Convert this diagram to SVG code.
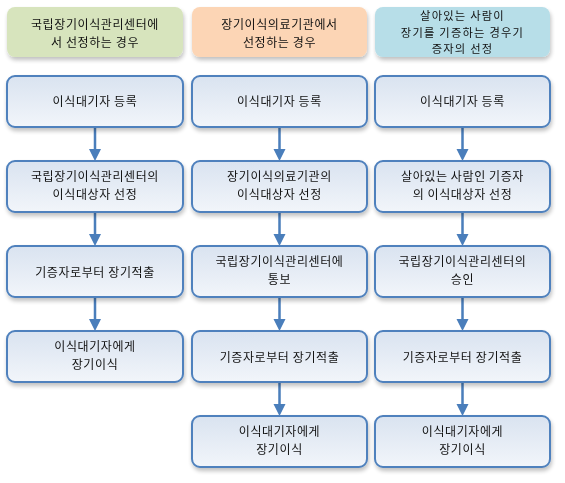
<svg xmlns="http://www.w3.org/2000/svg" width="565" height="483" viewBox="0 0 565 483">
<style>
text{font-family:"Noto Sans CJK KR","Noto Sans",sans-serif;font-size:12px;letter-spacing:0.6px;fill:#111;text-anchor:middle}
.s{font-size:11.3px;letter-spacing:1.2px}
.box{fill:url(#g);stroke:#4F81BD;stroke-width:2}
.hdr{stroke:none}
.c{stroke:#4A7EBB;stroke-width:2.5;fill:none}
.ah{fill:#4A7EBB}
</style>
<defs>
<linearGradient id="g" x1="0" y1="0" x2="0" y2="1"><stop offset="0" stop-color="#D9E3F0"/><stop offset="1" stop-color="#F2F5FA"/></linearGradient>
<filter id="sh" x="-10%" y="-10%" width="125%" height="140%"><feGaussianBlur in="SourceAlpha" stdDeviation="2"/><feOffset dx="1" dy="3"/><feComponentTransfer><feFuncA type="linear" slope="0.25"/></feComponentTransfer><feMerge><feMergeNode/><feMergeNode in="SourceGraphic"/></feMerge></filter>
</defs>
<g id="h1" filter="url(#sh)"><rect class="hdr" x="7" y="7" width="176" height="50" rx="8" fill="#D7E4BD"/><text x="95" y="29">국립장기이식관리센터에</text><text x="95" y="46.5">서 선정하는 경우</text></g>
<g id="h2" filter="url(#sh)"><rect class="hdr" x="192" y="7" width="175" height="50" rx="8" fill="#FCD5B5"/><text x="279.5" y="29">장기이식의료기관에서</text><text x="279.5" y="46.5">선정하는 경우</text></g>
<g id="h3" filter="url(#sh)"><rect class="hdr" x="375" y="7" width="175" height="50" rx="8" fill="#B7DEE8"/><text class="s" x="462.5" y="20">살아있는 사람이</text><text class="s" x="462.5" y="36.5">장기를 기증하는 경우기</text><text class="s" x="462.5" y="53">증자의 선정</text></g>

<g id="connectors">
<path class="c" d="M95 127V151M95 212V236M95 297V321"/>
<path class="ah" d="M89 149h12l-6 12zM89 234h12l-6 12zM89 319h12l-6 12z"/>
<path class="c" d="M279.5 127V151M279.5 212V236M279.5 297V321M279.5 382V406"/>
<path class="ah" d="M273.5 149h12l-6 12zM273.5 234h12l-6 12zM273.5 319h12l-6 12zM273.5 404h12l-6 12z"/>
<path class="c" d="M462.5 127V151M462.5 212V236M462.5 297V321M462.5 382V406"/>
<path class="ah" d="M456.5 149h12l-6 12zM456.5 234h12l-6 12zM456.5 319h12l-6 12zM456.5 404h12l-6 12z"/>
</g>

<g id="a1" filter="url(#sh)"><rect class="box" x="7" y="76" width="176" height="51" rx="8"/><text x="95" y="106">이식대기자 등록</text></g>
<g id="a2" filter="url(#sh)"><rect class="box" x="7" y="161" width="176" height="51" rx="8"/><text x="95" y="181">국립장기이식관리센터의</text><text x="95" y="198.5">이식대상자 선정</text></g>
<g id="a3" filter="url(#sh)"><rect class="box" x="7" y="246" width="176" height="51" rx="8"/><text x="95" y="276.5">기증자로부터 장기적출</text></g>
<g id="a4" filter="url(#sh)"><rect class="box" x="7" y="331" width="176" height="51" rx="8"/><text x="95" y="351">이식대기자에게</text><text x="95" y="368.5">장기이식</text></g>

<g id="b1" filter="url(#sh)"><rect class="box" x="192" y="76" width="175" height="51" rx="8"/><text x="279.5" y="106">이식대기자 등록</text></g>
<g id="b2" filter="url(#sh)"><rect class="box" x="192" y="161" width="175" height="51" rx="8"/><text x="279.5" y="181">장기이식의료기관의</text><text x="279.5" y="198.5">이식대상자 선정</text></g>
<g id="b3" filter="url(#sh)"><rect class="box" x="192" y="246" width="175" height="51" rx="8"/><text x="279.5" y="266">국립장기이식관리센터에</text><text x="279.5" y="283.5">통보</text></g>
<g id="b4" filter="url(#sh)"><rect class="box" x="192" y="331" width="175" height="51" rx="8"/><text x="279.5" y="361.5">기증자로부터 장기적출</text></g>
<g id="b5" filter="url(#sh)"><rect class="box" x="192" y="416" width="175" height="51" rx="8"/><text x="279.5" y="436">이식대기자에게</text><text x="279.5" y="453.5">장기이식</text></g>

<g id="c1" filter="url(#sh)"><rect class="box" x="375" y="76" width="175" height="51" rx="8"/><text x="462.5" y="106">이식대기자 등록</text></g>
<g id="c2" filter="url(#sh)"><rect class="box" x="375" y="161" width="175" height="51" rx="8"/><text x="462.5" y="181">살아있는 사람인 기증자</text><text x="462.5" y="198.5">의 이식대상자 선정</text></g>
<g id="c3" filter="url(#sh)"><rect class="box" x="375" y="246" width="175" height="51" rx="8"/><text x="462.5" y="266">국립장기이식관리센터의</text><text x="462.5" y="283.5">승인</text></g>
<g id="c4" filter="url(#sh)"><rect class="box" x="375" y="331" width="175" height="51" rx="8"/><text x="462.5" y="361.5">기증자로부터 장기적출</text></g>
<g id="c5" filter="url(#sh)"><rect class="box" x="375" y="416" width="175" height="51" rx="8"/><text x="462.5" y="436">이식대기자에게</text><text x="462.5" y="453.5">장기이식</text></g>
</svg>
